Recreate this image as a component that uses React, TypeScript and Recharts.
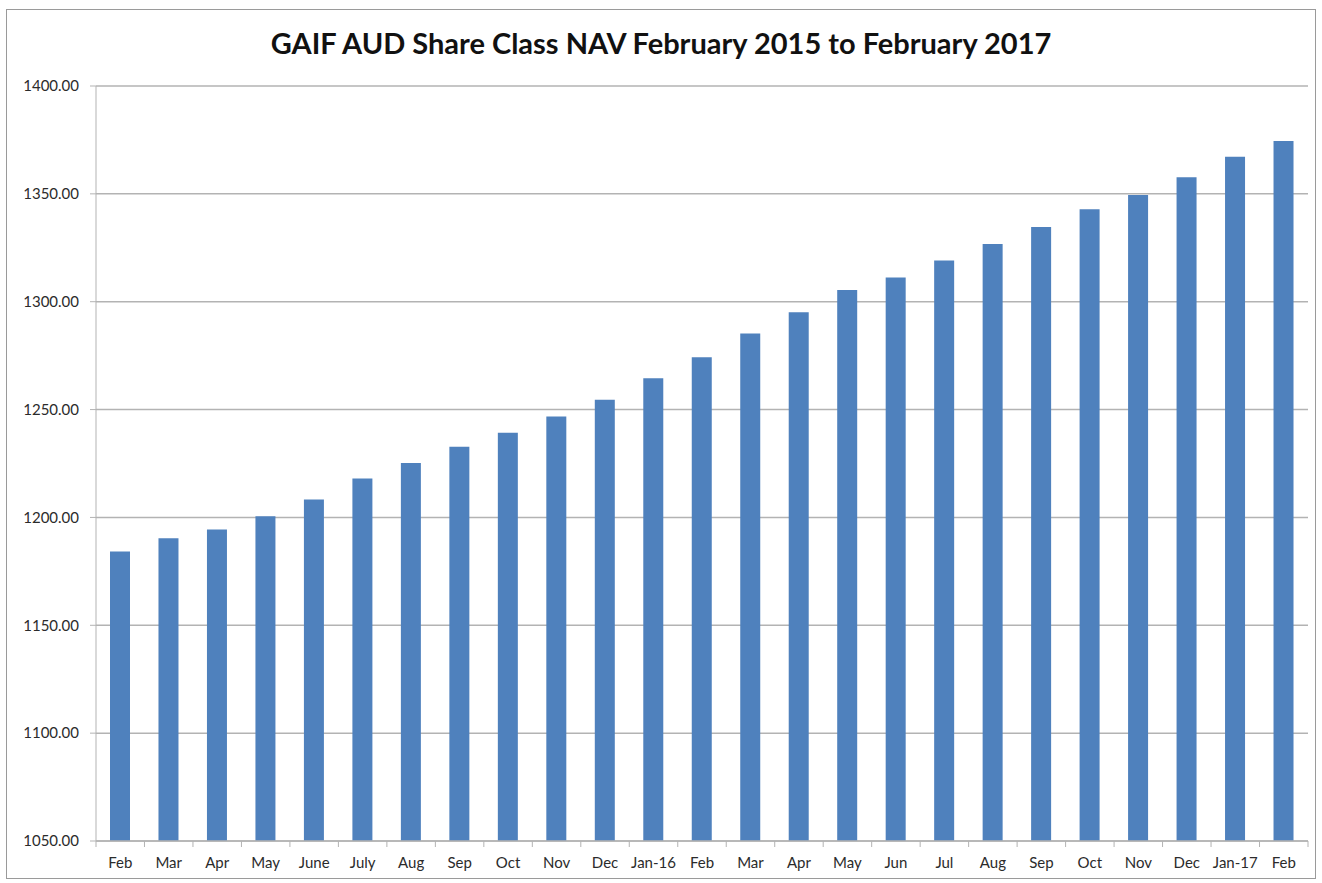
import React from 'react';
import { BarChart, Bar, XAxis, YAxis, CartesianGrid } from 'recharts';

const months = [
  'Feb', 'Mar', 'Apr', 'May', 'June', 'July', 'Aug', 'Sep', 'Oct', 'Nov', 'Dec', 'Jan-16',
  'Feb', 'Mar', 'Apr', 'May', 'Jun', 'Jul', 'Aug', 'Sep', 'Oct', 'Nov', 'Dec', 'Jan-17', 'Feb'
];

const navValues = [
  1184.2, 1190.4, 1194.4, 1200.5, 1208.3, 1218.1, 1225.2, 1232.8, 1239.3, 1246.8, 1254.5, 1264.5,
  1274.3, 1285.3, 1295.1, 1305.4, 1311.2, 1319.1, 1326.8, 1334.6, 1342.9, 1349.5, 1357.7, 1367.2, 1374.5
];

const yTicks = [1050, 1100, 1150, 1200, 1250, 1300, 1350, 1400];

const CHART_W = 1308;
const CHART_H = 868;
const margin = { top: 76, right: 7, bottom: 7, left: 0 };
const Y_AXIS_W = 89;
const TICK_SIZE = 6;
const TICK_MARGIN = 10;

const plotWidth = CHART_W - margin.left - margin.right - Y_AXIS_W;
const bandWidth = plotWidth / months.length;

const chartData = months.map((m, i) => ({ label: m, nav: navValues[i] }));

const FONT = 'Lato, "Open Sans", sans-serif';
const TEXT_COLOR = '#2b2b2b';
const LINE_COLOR = '#b3b3b3';

// Excel-style x ticks: marks sit between categories, labels in the middle
const MonthTick = (props: any) => {
  const { x, y, payload, index } = props;
  const lineTop = y - TICK_MARGIN - TICK_SIZE;
  const lineBottom = y - TICK_MARGIN;
  const left = x - bandWidth / 2;
  return (
    <g>
      <line x1={left} y1={lineTop} x2={left} y2={lineBottom} stroke={LINE_COLOR} />
      {index === months.length - 1 && (
        <line x1={x + bandWidth / 2} y1={lineTop} x2={x + bandWidth / 2} y2={lineBottom} stroke={LINE_COLOR} />
      )}
      <text
        x={x}
        y={y}
        dy="0.71em"
        textAnchor="middle"
        fill={TEXT_COLOR}
        fontSize={15}
        fontFamily={FONT}
      >
        {payload.value}
      </text>
    </g>
  );
};

export default function App() {
  return (
    <div
      style={{
        position: 'absolute',
        left: 6,
        top: 9,
        width: CHART_W,
        height: CHART_H,
        border: '1px solid #9a9a9a',
        background: '#fff'
      }}
    >
      <div
        style={{
          position: 'absolute',
          top: 15,
          left: 0,
          width: '100%',
          textAlign: 'center',
          fontFamily: FONT,
          fontWeight: 'bold',
          fontSize: 29,
          color: '#111'
        }}
      >
        GAIF AUD Share Class NAV February 2015 to February 2017
      </div>
      <BarChart width={CHART_W} height={CHART_H} data={chartData} margin={margin} barSize={20}>
        <CartesianGrid vertical={false} stroke={LINE_COLOR} strokeWidth={1.5} />
        <XAxis
          dataKey="label"
          height={30}
          interval={0}
          axisLine={{ stroke: LINE_COLOR, strokeWidth: 1.5 }}
          tickLine={false}
          tickSize={TICK_SIZE}
          tickMargin={TICK_MARGIN}
          tick={<MonthTick />}
        />
        <YAxis
          width={Y_AXIS_W}
          domain={[1050, 1400]}
          ticks={yTicks}
          interval={0}
          allowDataOverflow
          tickFormatter={(v: number) => v.toFixed(2)}
          axisLine={{ stroke: LINE_COLOR }}
          tickLine={{ stroke: LINE_COLOR }}
          tickSize={TICK_SIZE}
          tickMargin={11}
          tick={{ fill: TEXT_COLOR, fontSize: 15, fontFamily: FONT }}
        />
        <Bar dataKey="nav" fill="#4f81bd" isAnimationActive={false} />
      </BarChart>
    </div>
  );
}
